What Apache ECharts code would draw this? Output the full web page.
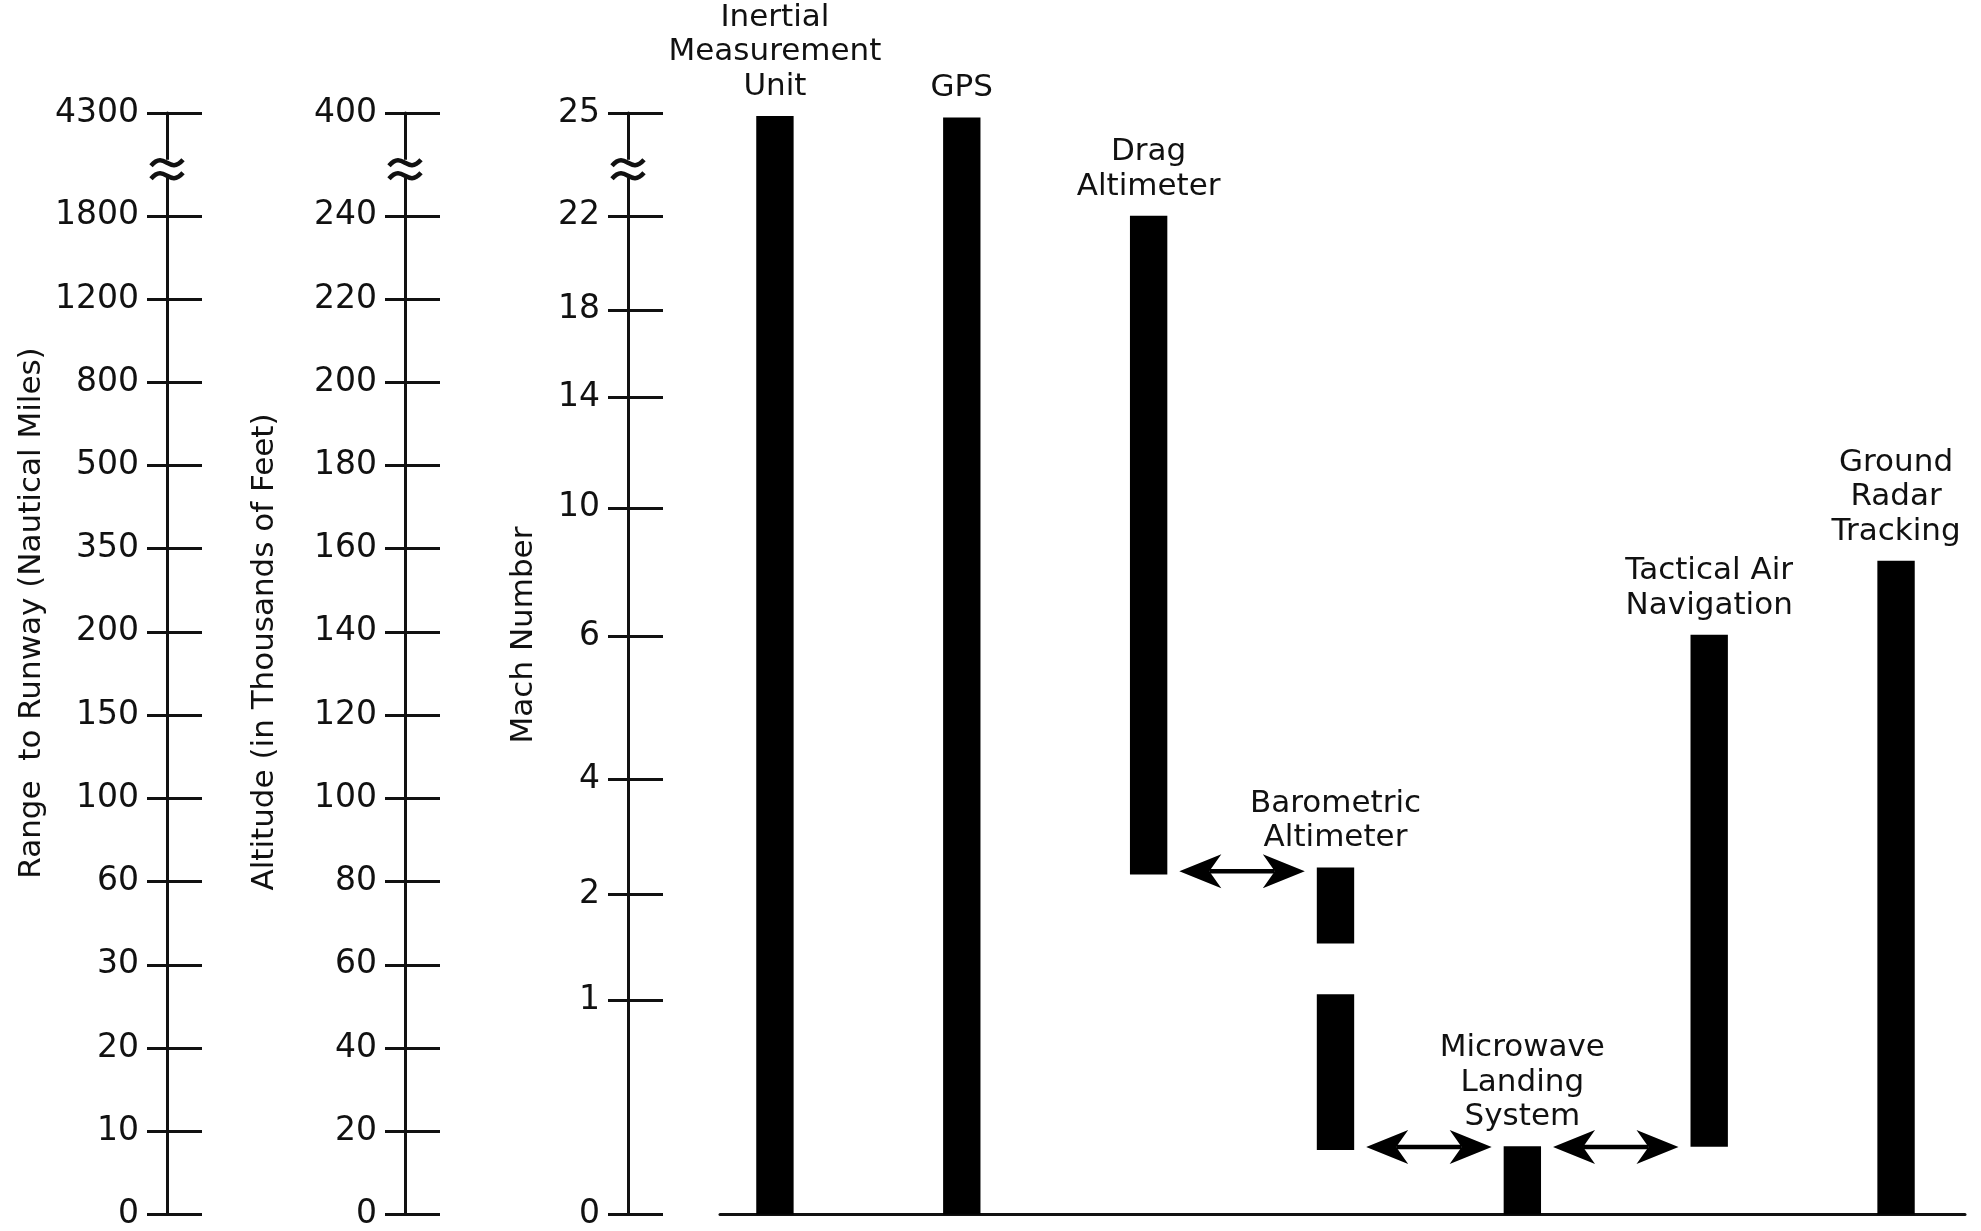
<!DOCTYPE html>
<html>
<head>
<meta charset="utf-8">
<style>
html,body{margin:0;padding:0;background:#ffffff;}
#chart{width:1981px;height:1231px;}
</style>
<script src="https://cdn.jsdelivr.net/npm/echarts@6.0.0/dist/echarts.min.js"></script>
</head>
<body>
<div id="chart"></div>
<script>
// ---------------- data ----------------
const instruments = [
  'Inertial\nMeasurement\nUnit',
  'GPS',
  'Drag\nAltimeter',
  'Barometric\nAltimeter',
  'Microwave\nLanding\nSystem',
  'Tactical Air\nNavigation',
  'Ground\nRadar\nTracking'
];
// bar segments, in altitude units (thousands of feet); values above 240 lie in the axis break
const segInstrument = [0, 1, 2, 3, 3, 4, 5, 6];
const segLow  = [0,     0,     81.7, 65.1, 15.5, 0,    16.3,  0];
const segHigh = [264.0, 263.6, 240,  83.4, 52.9, 16.4, 139.3, 157.1];
// hand-off arrows between neighbouring instruments
const arrowFrom = [2, 3, 4];
const arrowTo   = [3, 4, 5];
const arrowAlt  = [82.5, 16.2, 16.2];

// axis ticks
const axisTop = 264.7;   // position of the top (broken) tick
const breakAt = 251.3;   // position of the break mark
const altitudeTickPos    = [0, 20, 40, 60, 80, 100, 120, 140, 160, 180, 200, 220, 240, axisTop];
const altitudeTickLabels = ['0','20','40','60','80','100','120','140','160','180','200','220','240','400'];
const rangeTickLabels    = ['0','10','20','30','60','100','150','200','350','500','800','1200','1800','4300'];
const machTickPos    = [0, 51.4, 76.9, 104.5, 138.9, 169.8, 196.3, 217.4, 240, axisTop];
const machTickLabels = ['0','1','2','4','6','10','14','18','22','25'];

const axisNames = ['Range  to Runway (Nautical Miles)', 'Altitude (in Thousands of Feet)', 'Mach Number'];

// ---------------- layout / style ----------------
const FONT = 'DejaVu Sans';
const INK = '#111111';
const GRID_LEFT = 720;
const AXIS_OFFSETS = [553, 315, 92];       // range, altitude, mach
const NAME_POS = [[32, 613], [265, 652], [524, 635]];
const BAR_RATIO = 0.2;
const X_MIN = -0.294, X_MAX = 6.369;

function lookup(pos, labels) {
  return function (v) {
    for (let i = 0; i < pos.length; i++) {
      if (Math.abs(pos[i] - v) < 0.05) return labels[i];
    }
    return '';
  };
}

function makeAxisPair(offset, pos, labels) {
  const base = {
    type: 'value', position: 'left', offset: offset, min: 0, max: axisTop,
    splitLine: { show: false }
  };
  return [
    Object.assign({}, base, {
      axisLine: { show: true, onZero: false, lineStyle: { color: INK, width: 3 } },
      axisTick: { show: true, inside: false, length: 20, customValues: pos,
                  lineStyle: { color: INK, width: 3 } },
      axisLabel: { show: true, margin: 28, customValues: pos, formatter: lookup(pos, labels),
                   fontFamily: FONT, fontSize: 33, color: INK }
    }),
    Object.assign({}, base, {
      axisLine: { show: false, onZero: false },
      axisTick: { show: true, inside: true, length: 35, customValues: pos,
                  lineStyle: { color: INK, width: 3 } },
      axisLabel: { show: false }
    })
  ];
}

const yAxes = [].concat(
  makeAxisPair(AXIS_OFFSETS[0], altitudeTickPos, rangeTickLabels),
  makeAxisPair(AXIS_OFFSETS[1], altitudeTickPos, altitudeTickLabels),
  makeAxisPair(AXIS_OFFSETS[2], machTickPos, machTickLabels)
);

const segData = segInstrument.map((c, k) => [c, segLow[k], segHigh[k]]);
const arrowData = arrowFrom.map((f, k) => [f, arrowTo[k], arrowAlt[k]]);
const labelData = instruments.map((name, i) => {
  let top = 0;
  segInstrument.forEach((c, k) => { if (c === i) top = Math.max(top, segHigh[k]); });
  return [i, top];
});

const chart = echarts.init(document.getElementById('chart'), null, { renderer: 'canvas' });

chart.setOption({
  backgroundColor: '#ffffff',
  animation: false,
  grid: { left: GRID_LEFT, right: 16, top: 113, bottom: 16, containLabel: false },
  xAxis: {
    type: 'value', min: X_MIN, max: X_MAX,
    axisLine: { show: true, onZero: false, lineStyle: { color: INK, width: 3 } },
    axisTick: { show: false }, axisLabel: { show: false }, splitLine: { show: false }
  },
  yAxis: yAxes,
  series: [
    {
      type: 'custom', name: 'bars', silent: true, clip: false,
      encode: { x: 0, y: [1, 2] },
      data: segData,
      renderItem: function (params, api) {
        const i = api.value(0), lo = api.value(1), hi = api.value(2);
        const top = api.coord([i, hi]);
        const bot = api.coord([i, lo]);
        const w = api.size([1, 0])[0] * BAR_RATIO;
        return {
          type: 'rect',
          shape: { x: top[0] - w / 2, y: top[1], width: w, height: bot[1] - top[1] },
          style: { fill: '#000000' }
        };
      }
    },
    {
      type: 'custom', name: 'arrows', silent: true, clip: false,
      encode: { x: [0, 1], y: 2 },
      data: arrowData,
      renderItem: function (params, api) {
        const a = api.coord([api.value(0), api.value(2)]);
        const b = api.coord([api.value(1), api.value(2)]);
        const half = api.size([1, 0])[0] * BAR_RATIO / 2;
        const x1 = a[0] + half + 12, x2 = b[0] - half - 12, y = a[1];
        const L = 42, H = 17, N = 12;
        return {
          type: 'group',
          children: [
            { type: 'line', shape: { x1: x1 + L - N, y1: y, x2: x2 - L + N, y2: y },
              style: { stroke: '#000', lineWidth: 4.5 } },
            { type: 'polygon', shape: { points: [[x1, y], [x1 + L, y - H], [x1 + L - N, y], [x1 + L, y + H]] },
              style: { fill: '#000' } },
            { type: 'polygon', shape: { points: [[x2, y], [x2 - L, y - H], [x2 - L + N, y], [x2 - L, y + H]] },
              style: { fill: '#000' } }
          ]
        };
      }
    },
    {
      type: 'custom', name: 'labels', silent: true, clip: false,
      encode: { x: 0, y: 1 },
      data: labelData,
      renderItem: function (params, api) {
        const p = api.coord([api.value(0), api.value(1)]);
        return {
          type: 'text', x: p[0], y: p[1] - 12,
          style: {
            text: instruments[params.dataIndex], fontFamily: FONT, fontSize: 31, lineHeight: 34.5,
            fill: INK, align: 'center', verticalAlign: 'bottom'
          }
        };
      }
    }
  ]
});

// axis break marks and axis titles
const gridLeftPx = chart.convertToPixel({ xAxisIndex: 0 }, X_MIN);
const breakY = chart.convertToPixel({ yAxisIndex: 0 }, breakAt);
const graphics = [];
AXIS_OFFSETS.forEach(function (off) {
  const x = gridLeftPx - off;
  graphics.push({ type: 'rect', shape: { x: x - 6, y: breakY - 9, width: 12, height: 18 },
                  style: { fill: '#ffffff' }, z: 100 });
  [-6, 7].forEach(function (dy) {
    const y = breakY + dy;
    graphics.push({
      type: 'bezierCurve', z: 101,
      shape: { x1: x - 16, y1: y + 3, x2: x + 16, y2: y - 3, cpx1: x - 2, cpy1: y - 13, cpx2: x + 2, cpy2: y + 13 },
      style: { stroke: INK, lineWidth: 4.5, fill: null }
    });
  });
});
axisNames.forEach(function (t, k) {
  graphics.push({
    type: 'text', x: NAME_POS[k][0], y: NAME_POS[k][1], rotation: Math.PI / 2, z: 100,
    style: { text: t, fontFamily: FONT, fontSize: 31, fill: INK, align: 'center', verticalAlign: 'middle' }
  });
});
chart.setOption({ graphic: graphics });
</script>
</body>
</html>
